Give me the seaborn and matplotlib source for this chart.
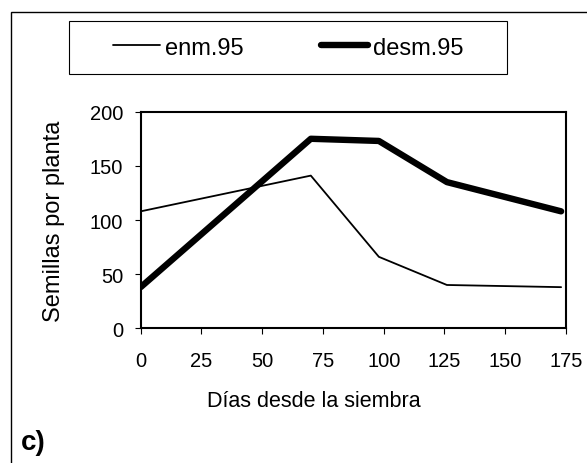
import pandas as pd
import seaborn as sns
import matplotlib.pyplot as plt
from matplotlib.patches import Rectangle

sns.set_style('white')
plt.rcParams['font.family'] = ['Liberation Sans', 'DejaVu Sans']
plt.rcParams['text.color'] = 'black'
plt.rcParams['axes.labelcolor'] = 'black'

dias = [0, 70, 98, 126, 173]
enm_95 = [108, 141, 66, 40, 38]
desm_95 = [38, 175, 173, 135, 108]

data = pd.DataFrame({
    'dias': dias * 2,
    'semillas': enm_95 + desm_95,
    'serie': ['enm.95'] * len(dias) + ['desm.95'] * len(dias),
})

fig = plt.figure(figsize=(5.87, 4.64), dpi=100)
ax = fig.add_axes([0.2397, 0.2903, 0.7245, 0.4668])

sns.lineplot(data=data, x='dias', y='semillas', hue='serie', size='serie',
             sizes={'enm.95': 1.3, 'desm.95': 4.6},
             palette={'enm.95': 'black', 'desm.95': 'black'},
             legend=False, ax=ax, solid_capstyle='round')

ax.set_xlim(0, 175)
ax.set_ylim(0, 200)
ax.set_xticks(range(0, 176, 25))
ax.set_yticks(range(0, 201, 50))
ax.tick_params(direction='out', length=4.5, width=0.8, labelsize=14.5,
               bottom=True, left=True, colors='black')
ax.tick_params(axis='x', pad=12)
ax.tick_params(axis='y', pad=8)
for s in ax.spines.values():
    s.set_linewidth(1.5)
    s.set_color('black')
ax.set_xlabel('Días desde la siembra', fontsize=15.5)
ax.set_ylabel('Semillas por planta', fontsize=17)
ax.xaxis.set_label_coords(0.4075, -0.285)
ax.yaxis.set_label_coords(-0.178, 0.5)

# legend in a separate box like the original
h1 = plt.Line2D([], [], color='black', lw=1.3)
h2 = plt.Line2D([], [], color='black', lw=4.6, solid_capstyle='round')
fig.legend([h1, h2], ['enm.95', 'desm.95'], loc='center',
           bbox_to_anchor=(0.491, 0.895), ncol=2, frameon=False,
           fontsize=17, handlelength=2.0, handletextpad=0.2,
           columnspacing=3.3)
fig.patches.append(Rectangle((0.1175, 0.8384), 0.746, 0.1142,
                             transform=fig.transFigure, fill=False,
                             edgecolor='black', lw=0.8))
fig.patches.append(Rectangle((0.0187, -0.1), 1.1, 1.072,
                             transform=fig.transFigure, fill=False,
                             edgecolor='black', lw=1.0))

fig.text(0.036, 0.03, 'c)', fontsize=20, fontweight='bold',
         ha='left', va='baseline')

fig.savefig('out.png', dpi=100)
